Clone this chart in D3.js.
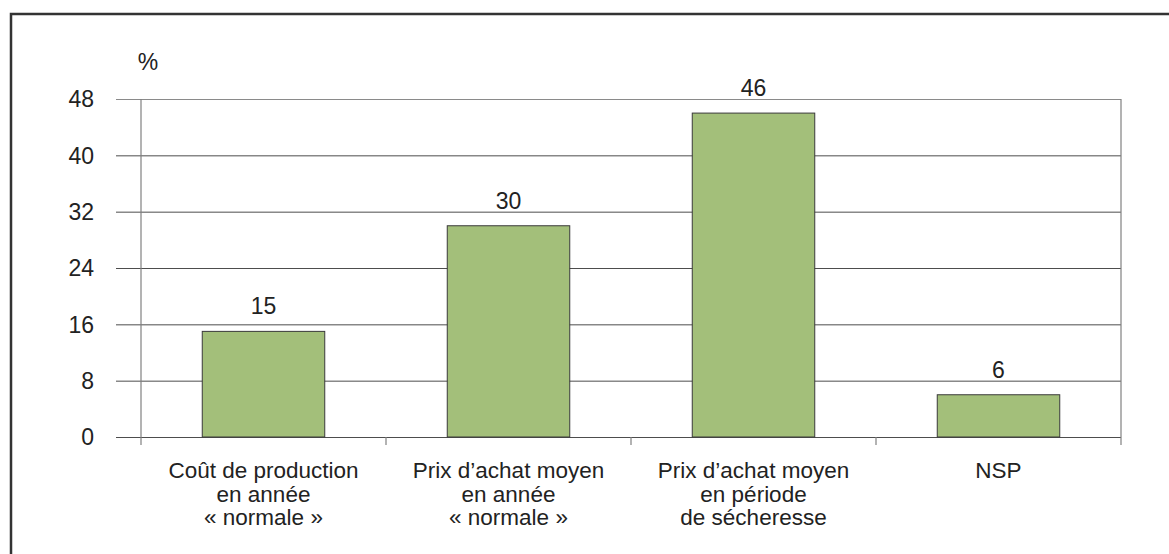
<!DOCTYPE html>
<html><head><meta charset="utf-8">
<script src="https://cdn.jsdelivr.net/npm/d3@7"></script>
<style>
html,body{margin:0;padding:0;background:#fff;}
svg{display:block;font-family:"Liberation Sans",Arial,sans-serif;}
</style></head>
<body>
<script>
const categories = [
  ["Coût de production", "en année", "« normale »"],
  ["Prix d’achat moyen", "en année", "« normale »"],
  ["Prix d’achat moyen", "en période", "de sécheresse"],
  ["NSP"]
];
const values = [15, 30, 46, 6];
const yTicks = [0, 8, 16, 24, 32, 40, 48];
const yUnit = "%";

const W = 1169, H = 554;
const m = {left: 141, right: 1121, top: 99, bottom: 437};
const svg = d3.select("body").append("svg").attr("width", W).attr("height", H);

// outer frame
svg.append("rect").attr("x", 11).attr("y", 14).attr("width", W + 20).attr("height", H + 20)
  .attr("fill", "none").attr("stroke", "#333").attr("stroke-width", 2.5);

const x = d3.scaleBand().domain(d3.range(categories.length)).range([m.left, m.right]).paddingInner(0.5).paddingOuter(0.25);
const xb = d3.scaleBand().domain(d3.range(categories.length)).range([m.left, m.right]);
const y = d3.scaleLinear().domain([0, 48]).range([m.bottom, m.top]);

// gridlines
const gy = svg.append("g").attr("transform", `translate(${m.left},0)`)
  .call(d3.axisLeft(y).tickValues(yTicks).tickSize(-(m.right - m.left)).tickFormat("").tickSizeOuter(0));
gy.select(".domain").remove();
gy.selectAll(".tick line").attr("stroke-width", 1).attr("x1", -25)
  .attr("stroke", d => d === 48 ? "#8a8a8a" : "#4d4d4d");

// y tick labels
svg.append("g").selectAll("text").data(yTicks).join("text")
  .attr("x", 94).attr("y", d => y(d)).attr("dy", "0.36em")
  .attr("text-anchor", "end").attr("font-size", 23).attr("fill", "#222").text(d => d);

// left axis & right border
svg.append("line").attr("x1", m.left).attr("x2", m.left).attr("y1", m.top).attr("y2", m.bottom + 8)
  .attr("stroke", "#808080").attr("stroke-width", 1.2);
svg.append("line").attr("x1", m.right).attr("x2", m.right).attr("y1", m.top).attr("y2", m.bottom + 8)
  .attr("stroke", "#808080").attr("stroke-width", 1.2);

// x ticks at band boundaries
const bounds = d3.range(categories.length + 1).map(i => i < categories.length ? xb(i) : m.right);
svg.append("g").selectAll("line").data(bounds.slice(1, -1)).join("line")
  .attr("x1", d => d).attr("x2", d => d).attr("y1", m.bottom).attr("y2", m.bottom + 8)
  .attr("stroke", "#808080").attr("stroke-width", 1.2);

// bars
svg.append("g").selectAll("rect").data(values).join("rect")
  .attr("x", (d, i) => x(i)).attr("width", x.bandwidth())
  .attr("y", d => y(d)).attr("height", d => y(0) - y(d))
  .attr("fill", "#a3bf7a").attr("stroke", "#3a3a3a").attr("stroke-width", 1);

// value labels
svg.append("g").selectAll("text").data(values).join("text")
  .attr("x", (d, i) => x(i) + x.bandwidth() / 2).attr("y", d => y(d) - 17)
  .attr("text-anchor", "middle").attr("font-size", 23).attr("fill", "#222").text(d => d);

// category labels
const cl = svg.append("g").selectAll("text").data(categories).join("text")
  .attr("x", (d, i) => xb(i) + xb.bandwidth() / 2).attr("y", 478)
  .attr("text-anchor", "middle").attr("font-size", 22.5).attr("fill", "#222");
cl.selectAll("tspan").data(d => d).join("tspan")
  .attr("x", function() { return d3.select(this.parentNode).attr("x"); })
  .attr("dy", (d, i) => i === 0 ? 0 : 23.5).text(d => d);

// unit
svg.append("text").attr("x", 148).attr("y", 70).attr("text-anchor", "middle")
  .attr("font-size", 23).attr("fill", "#222").text(yUnit);
</script>
</body></html>
